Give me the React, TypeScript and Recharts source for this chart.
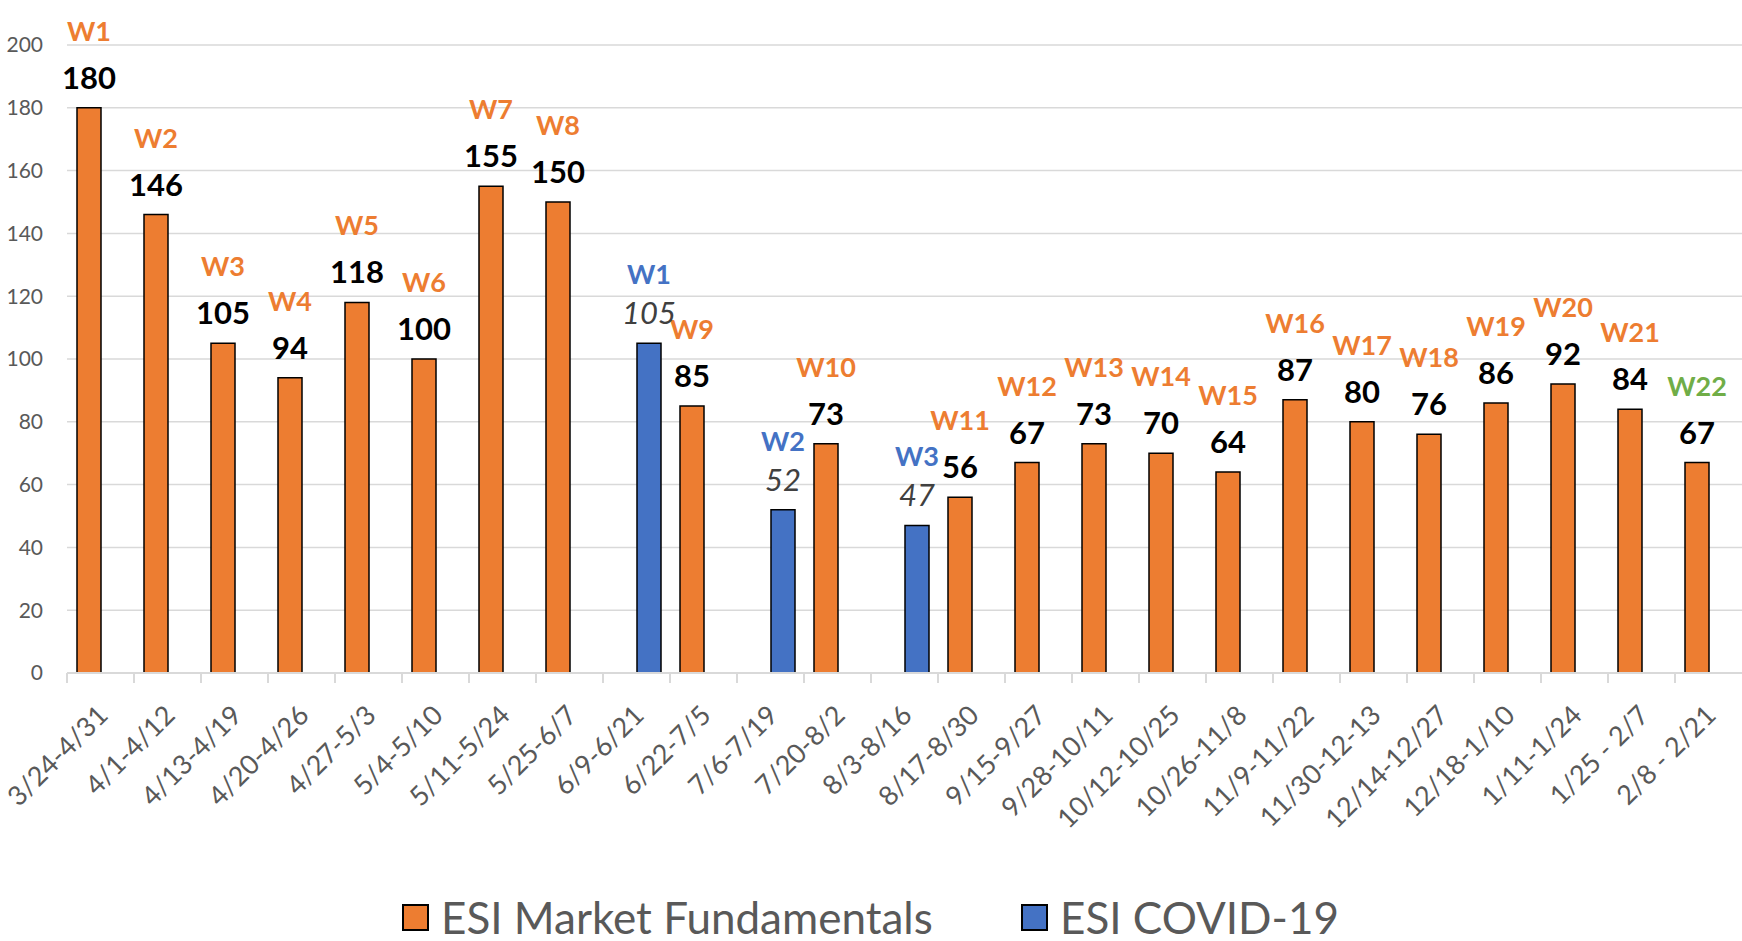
import React from "react";
import { BarChart, Bar, XAxis, YAxis, CartesianGrid, Legend, LabelList } from "recharts";

// two-week windows on the x axis
const weeks = [
  "3/24-4/31", "4/1-4/12", "4/13-4/19", "4/20-4/26", "4/27-5/3", "5/4-5/10",
  "5/11-5/24", "5/25-6/7", "6/9-6/21", "6/22-7/5", "7/6-7/19", "7/20-8/2",
  "8/3-8/16", "8/17-8/30", "9/15-9/27", "9/28-10/11", "10/12-10/25", "10/26-11/8",
  "11/9-11/22", "11/30-12-13", "12/14-12/27", "12/18-1/10", "1/11-1/24", "1/25 - 2/7",
  "2/8 - 2/21",
];

const fundamentals = [
  180, 146, 105, 94, 118, 100, 155, 150, null, 85, null, 73, null, 56, 67, 73,
  70, 64, 87, 80, 76, 86, 92, 84, 67,
];
const covid = [
  null, null, null, null, null, null, null, null, 105, null, 52, null, 47, null,
  null, null, null, null, null, null, null, null, null, null, null,
];

const fundamentalsWave = [
  "W1", "W2", "W3", "W4", "W5", "W6", "W7", "W8", null, "W9", null, "W10", null,
  "W11", "W12", "W13", "W14", "W15", "W16", "W17", "W18", "W19", "W20", "W21", "W22",
];
const covidWave = [
  null, null, null, null, null, null, null, null, "W1", null, "W2", null, "W3",
  null, null, null, null, null, null, null, null, null, null, null, null,
];

const yTicks = [0, 20, 40, 60, 80, 100, 120, 140, 160, 180, 200];
const seriesOrder = ["fundamentals", "covid"];
const LATEST_WAVE = "W22";

const data = weeks.map((week, i) => ({
  week,
  fundamentals: fundamentals[i],
  covid: covid[i],
  fundamentalsWave: fundamentalsWave[i],
  covidWave: covidWave[i],
}));

const FONT = "Lato, 'Open Sans', sans-serif";
const ORANGE = "#ED7D31";
const BLUE = "#4472C4";
const GREEN = "#70AD47";
const GRAY = "#595959";
const GRID = "#D9D9D9";

const CHART_W = 1742;
const CHART_H = 941;
const Y_AXIS_W = 67;
const BAND = (CHART_W - Y_AXIS_W) / weeks.length;

const WeekTick = (props: any) => {
  const { x, y, payload } = props;
  return (
    <g>
      <line x1={x - BAND / 2} y1={y} x2={x - BAND / 2} y2={y + 10} stroke={GRID} strokeWidth={2} />
      <text
        transform={`translate(${x + 9},${y + 44}) rotate(-45)`}
        textAnchor="end"
        fontSize={27}
        fill={GRAY}
        fontFamily={FONT}
      >
        {payload.value}
      </text>
    </g>
  );
};

const box = (props: any) => {
  const vb = props.viewBox || {};
  const x = Number(props.x ?? vb.x);
  const y = Number(props.y ?? vb.y);
  const width = Number(props.width ?? vb.width);
  return { cx: x + width / 2, top: y };
};

const valueLabel = (covidSeries: boolean) => (props: any) => {
  if (props.value == null) return null;
  const { cx, top } = box(props);
  return (
    <text
      x={cx}
      y={top - 19}
      textAnchor="middle"
      fontFamily={FONT}
      fontSize={31}
      fontWeight={covidSeries ? 400 : 700}
      fontStyle={covidSeries ? "italic" : "normal"}
      fill={covidSeries ? "#404040" : "#000"}
    >
      {props.value}
    </text>
  );
};

const waveLabel = (covidSeries: boolean) => (props: any) => {
  if (props.value == null) return null;
  const { cx, top } = box(props);
  const color = covidSeries ? BLUE : props.value === LATEST_WAVE ? GREEN : ORANGE;
  return (
    <text
      x={cx}
      y={top - 19 - (covidSeries ? 40 : 48)}
      textAnchor="middle"
      fontFamily={FONT}
      fontSize={27}
      fontWeight={700}
      fill={color}
    >
      {props.value}
    </text>
  );
};

const LegendContent = (props: any) => {
  const items = [...(props.payload || [])].sort(
    (a: any, b: any) => seriesOrder.indexOf(a.dataKey) - seriesOrder.indexOf(b.dataKey)
  );
  return (
    <div
      style={{
        height: 70,
        boxSizing: "border-box",
        paddingTop: 22,
        paddingLeft: 402,
        display: "flex",
        alignItems: "center",
        fontFamily: FONT,
        fontSize: 44,
        lineHeight: "44px",
        color: GRAY,
        whiteSpace: "nowrap",
      }}
    >
      {items.map((item: any, i: number) => (
        <div key={item.value} style={{ display: "flex", alignItems: "center", width: i === 0 ? 619 : undefined }}>
          <span
            style={{
              display: "inline-block",
              width: 27,
              height: 27,
              boxSizing: "border-box",
              background: item.color,
              border: "2px solid #000",
              marginRight: 12,
            }}
          />
          <span>{item.value}</span>
        </div>
      ))}
    </div>
  );
};

export default function App() {
  return (
    <div style={{ position: "absolute", left: 0, top: 0, width: CHART_W, height: CHART_H, background: "#fff" }}>
      <BarChart
        width={CHART_W}
        height={CHART_H}
        data={data}
        barGap={0}
        margin={{ top: 45, right: 0, bottom: 0, left: 0 }}
      >
        <CartesianGrid vertical={false} stroke={GRID} strokeWidth={1.5} />
        <XAxis
          dataKey="week"
          height={198}
          interval={0}
          tickLine={false}
          tickSize={0}
          tickMargin={0}
          axisLine={{ stroke: GRID, strokeWidth: 2 }}
          tick={<WeekTick />}
        />
        <YAxis
          width={Y_AXIS_W}
          domain={[0, 200]}
          ticks={yTicks}
          axisLine={false}
          tickLine={false}
          tickSize={0}
          tickMargin={24}
          tick={{ fontSize: 21, fill: GRAY, fontFamily: FONT }}
        />
        <Legend verticalAlign="bottom" wrapperStyle={{ left: 0, width: CHART_W }} content={<LegendContent />} />
        <Bar
          dataKey="fundamentals"
          name="ESI Market Fundamentals"
          fill={ORANGE}
          stroke="#000"
          strokeWidth={1.5}
          barSize={24}
          isAnimationActive={false}
        >
          <LabelList dataKey="fundamentals" content={valueLabel(false)} />
          <LabelList dataKey="fundamentalsWave" content={waveLabel(false)} />
        </Bar>
        <Bar
          dataKey="covid"
          name="ESI COVID-19"
          fill={BLUE}
          stroke="#000"
          strokeWidth={1.5}
          barSize={24}
          isAnimationActive={false}
        >
          <LabelList dataKey="covid" content={valueLabel(true)} />
          <LabelList dataKey="covidWave" content={waveLabel(true)} />
        </Bar>
      </BarChart>
    </div>
  );
}
